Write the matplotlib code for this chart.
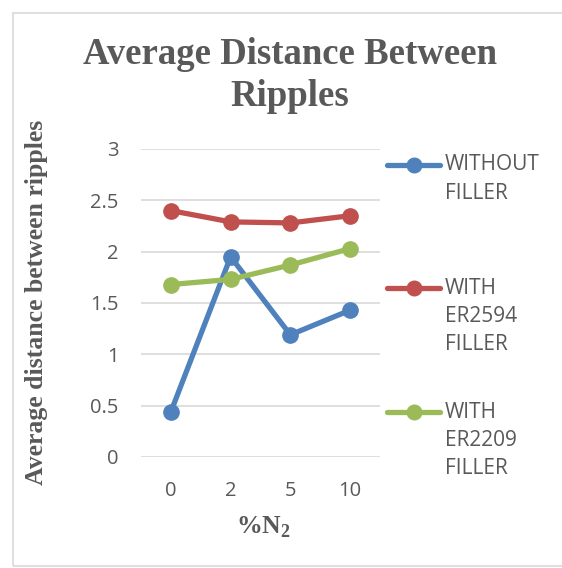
import matplotlib
matplotlib.use("Agg")
import matplotlib.pyplot as plt
from matplotlib.lines import Line2D
from matplotlib.patches import Rectangle

categories = ["0", "2", "5", "10"]
without_filler = [0.44, 1.95, 1.19, 1.43]
with_er2594 = [2.40, 2.29, 2.28, 2.35]
with_er2209 = [1.68, 1.73, 1.87, 2.03]
series_names = ["WITHOUT\nFILLER", "WITH\nER2594\nFILLER", "WITH\nER2209\nFILLER"]
colors = ["#4F81BD", "#C0504D", "#9BBB59"]
grey = "#595959"

W, H = 562, 568
fig = plt.figure(figsize=(W / 100, H / 100), dpi=100)
# plot area in pixels: x 141..380, y 149..457
ax = fig.add_axes([141 / W, 1 - 457 / H, (380 - 141) / W, (457 - 149) / H])

x = range(len(categories))
for vals, c in zip([without_filler, with_er2594, with_er2209], colors):
    ax.plot(x, vals, color=c, lw=3.8, marker="o", ms=11, solid_capstyle="round", zorder=3)

ax.set_xlim(-0.5, 3.5)
ax.set_ylim(0, 3)
ax.set_yticks([0, 0.5, 1, 1.5, 2, 2.5, 3])
ax.set_yticklabels(["0", "0.5", "1", "1.5", "2", "2.5", "3"])
ax.set_xticks(list(x))
ax.set_xticklabels(categories)
ax.yaxis.grid(True, color="#D9D9D9", lw=1.2)
ax.set_axisbelow(True)
for s in ax.spines.values():
    s.set_visible(False)
ax.tick_params(length=0, labelsize=14.5, colors=grey)
for lab in ax.get_xticklabels() + ax.get_yticklabels():
    lab.set_fontfamily("Open Sans")
ax.tick_params(axis="x", pad=17)
ax.tick_params(axis="y", pad=16)

serif = "Liberation Serif"
fig.text(290 / W, 1 - 55 / H, "Average Distance Between", ha="center", va="center",
         fontsize=26.5, fontweight="bold", family=serif, color=grey)
fig.text(290 / W, 1 - 97 / H, "Ripples", ha="center", va="center",
         fontsize=26.5, fontweight="bold", family=serif, color=grey)
fig.text(37 / W, 1 - 302 / H, "Average distance between ripples", rotation=90,
         ha="center", va="center", fontsize=18.5, fontweight="bold", family=serif, color=grey)
fig.text(263 / W, 1 - 527 / H, "%N$_\\mathregular{2}$", ha="center", va="center",
         fontsize=18.5, fontweight="bold", family=serif, color=grey)

# legend drawn by hand to match the stacked labels
legend_y = [165, 288, 412]
for name, c, y in zip(series_names, colors, legend_y):
    fy = 1 - y / H
    fig.add_artist(Line2D([387 / W, 440 / W], [fy, fy], color=c, lw=3.8,
                          solid_capstyle="round", transform=fig.transFigure))
    fig.add_artist(Line2D([413.5 / W], [fy], color=c, marker="o", ms=10.5,
                          transform=fig.transFigure))
    for i, line in enumerate(name.split("\n")):
        fig.text(445 / W, 1 - (y + 28.5 * i) / H, line, ha="left", va="center",
                 fontsize=15, family="Open Sans", color=grey)

fig.add_artist(Rectangle((12.5 / W, 1 - 565.5 / H), (W + 10) / W, 553 / H,
                         transform=fig.transFigure, fill=False, ec="#D9D9D9", lw=1.2))

fig.savefig("out.png", dpi=100, facecolor="white")
